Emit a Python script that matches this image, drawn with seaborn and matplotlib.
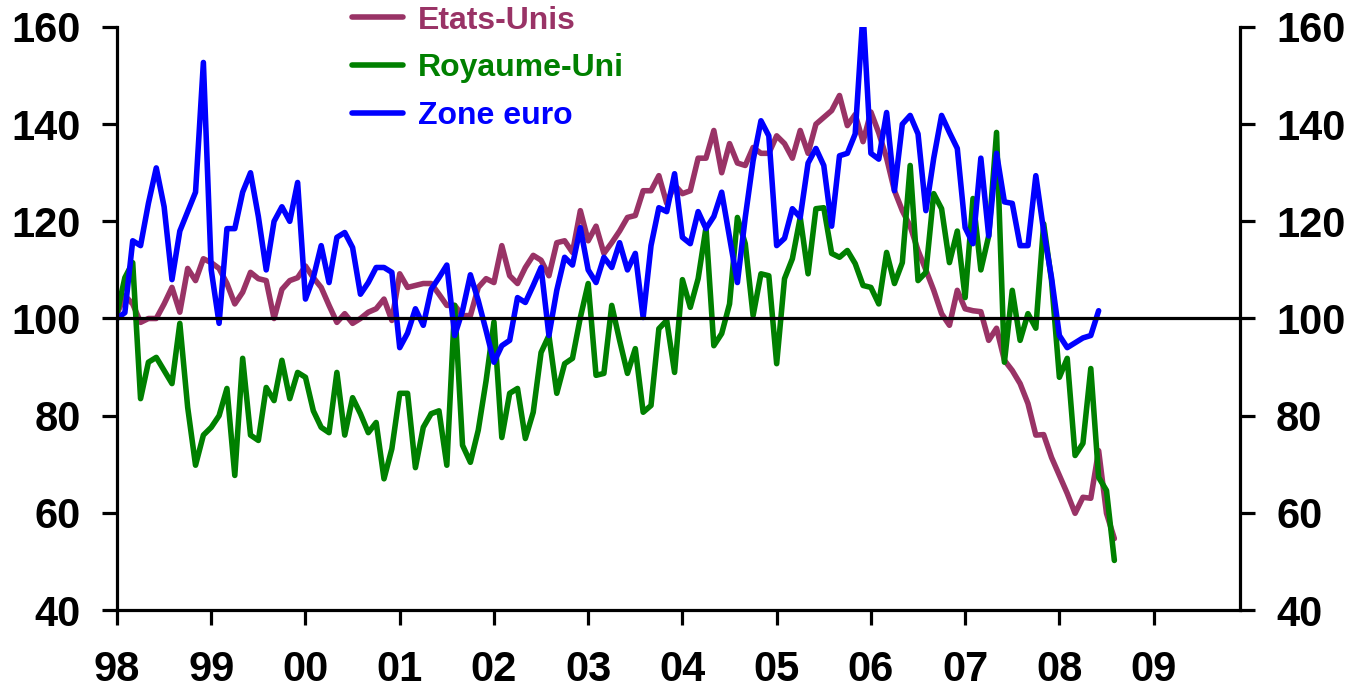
import numpy as np
import pandas as pd
import matplotlib
matplotlib.use("Agg")
import matplotlib.pyplot as plt
import seaborn as sns

# monthly indices, Jan 1998 = first point
etats_unis = [101, 104.7, 103, 99.2, 100, 100, 103, 106.4, 101.3, 110.3, 107.8, 112.3,
              111.5, 110.3, 107.2, 103, 105.4, 109.5, 108.2, 107.8, 100, 106, 107.8, 108.4,
              110.8, 108.4, 106.4, 102.7, 99.2, 101, 99, 100, 101.3, 102, 104, 99.6,
              109.2, 106.4, 106.8, 107.2, 107.2, 105, 102.7, 102.7, 100.6, 100.6, 106.4, 108.2,
              107.4, 115, 108.8, 107.2, 110.5, 113, 112, 108.8, 115.6, 116, 113.6, 122.2,
              116, 119, 113.4, 115.6, 118, 120.8, 121.2, 126.3, 126.3, 129.4, 123.7, 127.5,
              125.7, 126.3, 133, 133, 138.7, 130, 136, 132, 131.5, 135.2, 134, 134,
              137.6, 136, 133, 138.7, 134, 140, 141.4, 142.8, 145.9, 139.7, 142, 136.4,
              142.5, 138.2, 133, 126.3, 122.2, 119, 114, 110, 105.8, 101, 98.6, 105.8,
              102, 101.6, 101.4, 95.5, 98, 91.4, 89.3, 86.6, 82.5, 76, 76.1, 71.4,
              67.7, 64, 59.9, 63.2, 63, 72.8, 59.9, 54.7]

royaume_uni = [101, 108.4, 111.5, 83.5, 91, 92, 89.3, 86.6, 99, 81.7, 69.8, 76,
               77.6, 80, 85.6, 67.7, 91.8, 76, 74.9, 85.8, 83.1, 91.4, 83.5, 88.9,
               87.9, 81, 77.6, 76.5, 88.9, 76, 83.7, 80.4, 76.5, 78.6, 67, 73.2,
               84.6, 84.6, 69.3, 77.6, 80.4, 81, 69.8, 102.7, 73.9, 70.4, 77, 87.2,
               99.3, 75.5, 84.6, 85.6, 75.3, 80.7, 93, 96.5, 84.6, 90.7, 91.8, 100.2,
               107.2, 88.3, 88.7, 102.7, 95.5, 88.7, 93.8, 80.7, 82.1, 97.9, 99.6, 88.9,
               108, 102.3, 108.2, 118.7, 94.4, 96.9, 103, 120.8, 115.4, 100.6, 109.2, 108.8,
               90.7, 108.2, 112.3, 120.8, 109.2, 122.6, 122.8, 113.4, 112.6, 114, 111.3, 106.8,
               106.4, 103, 113.6, 107.2, 111.5, 131.5, 107.8, 109.5, 125.7, 122.6, 111.5, 118,
               104.3, 124.7, 110, 117, 138.3, 91, 105.8, 95.5, 101, 98, 119.5, 107.8,
               87.9, 91.8, 71.8, 74.3, 89.7, 67.3, 64.6, 50.2]

zone_euro = [100, 101.2, 116, 115, 123.7, 131, 123, 108, 118, 122, 126, 152.7,
             110, 99, 118.5, 118.5, 126, 130, 121, 110, 120, 123, 120, 128,
             104, 108.4, 115, 107.4, 116.7, 117.7, 114.6, 105, 107.4, 110.5, 110.5, 109.5,
             94, 97, 102, 98.6, 106, 108.4, 111, 96.5, 101.6, 109, 103.7, 97.5,
             91, 94.4, 95.5, 104.3, 103.3, 106.8, 110.5, 96.5, 105.8, 112.6, 111, 118.7,
             110, 107.4, 112.6, 110.5, 115.6, 110, 113.4, 100.2, 115, 122.8, 122, 129.8,
             116.7, 115.4, 122, 118.5, 121, 126, 116.7, 107.4, 120.8, 132.5, 140.7, 137.6,
             115, 116.5, 122.6, 120.8, 132, 135, 131.5, 119, 133.5, 134, 138, 163,
             134, 132.8, 142.4, 126.3, 140, 141.8, 138, 122.2, 133, 141.8, 138.3, 135,
             118.7, 115.4, 133, 117, 134, 124, 123.7, 115, 115, 129.4, 118, 108.4,
             96.5, 94, 95, 96, 96.5, 101.6]

series = ["Etats-Unis", "Royaume-Uni", "Zone euro"]
colors = ["#993366", "#008000", "#0000FF"]
year_labels = ["98", "99", "00", "01", "02", "03", "04", "05", "06", "07", "08", "09"]

sns.set_style("white")
plt.rcParams["font.family"] = ["Liberation Sans", "DejaVu Sans"]
plt.rcParams["font.weight"] = "bold"

fig = plt.figure(figsize=(13.55, 6.97), dpi=100)
ax = fig.add_axes([117 / 1355, 87 / 697, 1123 / 1355, 583 / 697])

for name, vals, col in zip(series, [etats_unis, royaume_uni, zone_euro], colors):
    x = 1998 + np.arange(len(vals)) / 12
    sns.lineplot(x=x, y=vals, color=col, lw=4, label=name, ax=ax)

ax.axhline(100, color="black", lw=2.3, zorder=5)

ax.set_xlim(1998, 1998 + 143 / 12)
ax.set_ylim(40, 160)
ax.set_xticks(1998 + np.arange(len(year_labels)))
ax.set_xticklabels(year_labels)
ax.set_yticks(np.arange(40, 161, 20))

for side in ["left", "right", "bottom"]:
    ax.spines[side].set_visible(True)
    ax.spines[side].set_linewidth(2.3)
    ax.spines[side].set_color("black")
ax.spines["top"].set_visible(False)

ax.tick_params(axis="both", direction="out", length=11, width=2.3, labelsize=30,
               colors="black")
ax.tick_params(axis="y", left=True, right=True, labelleft=True, labelright=True, pad=15)
ax.tick_params(axis="x", bottom=True, pad=18)

leg = ax.legend(loc="upper left", bbox_to_anchor=(352 / 1355, 0.992),
                bbox_transform=fig.transFigure, frameon=False, fontsize=23,
                handlelength=1.6, handletextpad=0.47, labelspacing=0.56,
                borderpad=0, borderaxespad=0)
for txt, line in zip(leg.get_texts(), leg.get_lines()):
    txt.set_color(line.get_color())

fig.savefig("out.png", dpi=100)
